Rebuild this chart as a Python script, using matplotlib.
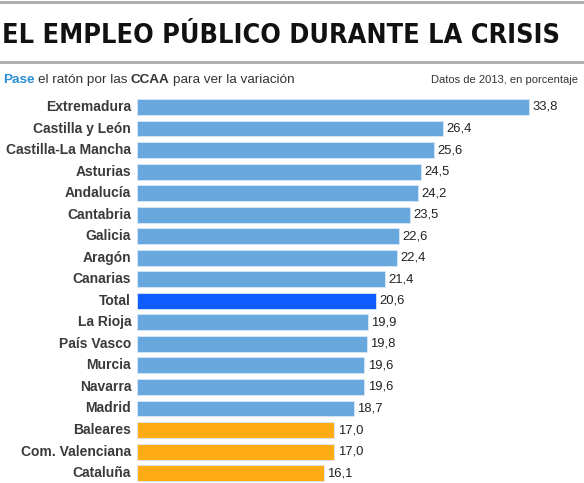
import matplotlib.pyplot as plt
from matplotlib.lines import Line2D
from matplotlib import font_manager

regions = ['Extremadura', 'Castilla y León', 'Castilla-La Mancha', 'Asturias', 'Andalucía',
           'Cantabria', 'Galicia', 'Aragón', 'Canarias', 'Total', 'La Rioja', 'País Vasco',
           'Murcia', 'Navarra', 'Madrid', 'Baleares', 'Com. Valenciana', 'Cataluña']
values = [33.8, 26.4, 25.6, 24.5, 24.2, 23.5, 22.6, 22.4, 21.4, 20.6, 19.9, 19.8,
          19.6, 19.6, 18.7, 17.0, 17.0, 16.1]

W, H = 584, 483
fig = plt.figure(figsize=(W / 100, H / 100), dpi=100)
plt.rcParams['font.family'] = ['Liberation Sans', 'DejaVu Sans']

colors = []
for name, v in zip(regions, values):
    if name == 'Total':
        colors.append('#0f5cff')
    elif v <= 17.0:
        colors.append('#ffab14')
    else:
        colors.append('#68a8de')

# axes: x from px 137 to 584, y from px 96 to 483
ax = fig.add_axes([137 / W, 0, (W - 137) / W, (H - 96) / H])
ypos = list(range(len(regions)))
ax.barh(ypos, values, height=0.74, color=colors, edgecolor='#d8e8f5', linewidth=0.6)
ax.set_xlim(0, (W - 137) / 11.6)
ax.set_ylim(17.46, -0.51)
ax.axis('off')

for y, name, v in zip(ypos, regions, values):
    ax.text(-0.5, y, name, ha='right', va='center', fontsize=10.0,
            fontweight='bold', color='#3a3a3a')
    ax.text(v + 0.3, y, f'{v:.1f}'.replace('.', ','), ha='left', va='center',
            fontsize=9.4, color='#222222')

# title and rules
fig.add_artist(Line2D([0, 1], [1 - 2 / H, 1 - 2 / H], color='#aaaaaa', lw=2))
fig.add_artist(Line2D([0, 1], [1 - 62 / H, 1 - 62 / H], color='#aaaaaa', lw=2))

# look for a narrow/condensed bold face for the title
title_prop = font_manager.FontProperties(family='DejaVu Sans', weight='bold')
for f in font_manager.fontManager.ttflist:
    nm = (f.name + ' ' + str(f.stretch) + ' ' + f.fname).lower()
    if ('condensed' in nm or 'narrow' in nm) and 'bold' in f.fname.lower() \
            and 'oblique' not in f.fname.lower() and 'italic' not in f.fname.lower():
        title_prop = font_manager.FontProperties(fname=f.fname)
        break

title = fig.text(2 / W, 1 - 36 / H, 'EL EMPLEO PÚBLICO DURANTE LA CRISIS', ha='left',
                 va='center', fontproperties=title_prop, color='#111111')
title.set_fontsize(33)
fig.canvas.draw()
tw = title.get_window_extent().width
title.set_fontsize(min(36, 33 * 558 / tw))

# subtitle line
fs = 9.7
t = fig.text(3 / W, 1 - 80 / H, 'Pase', ha='left', va='center', fontsize=fs,
             fontweight='bold', color='#2b8fd6')
fig.canvas.draw()
bb = t.get_window_extent()
t2 = fig.text(bb.x1 / W + 3 / W, 1 - 80 / H, 'el ratón por las ', ha='left', va='center',
              fontsize=fs, color='#333333')
fig.canvas.draw()
bb = t2.get_window_extent()
t3 = fig.text(bb.x1 / W, 1 - 80 / H, 'CCAA', ha='left', va='center', fontsize=fs,
              fontweight='bold', color='#333333')
fig.canvas.draw()
bb = t3.get_window_extent()
fig.text(bb.x1 / W + 3 / W, 1 - 80 / H, 'para ver la variación', ha='left', va='center',
         fontsize=fs, color='#333333')
fig.text(578 / W, 1 - 80 / H, 'Datos de 2013, en porcentaje', ha='right', va='center',
         fontsize=8, color='#333333')

fig.savefig('out.png', dpi=100)
